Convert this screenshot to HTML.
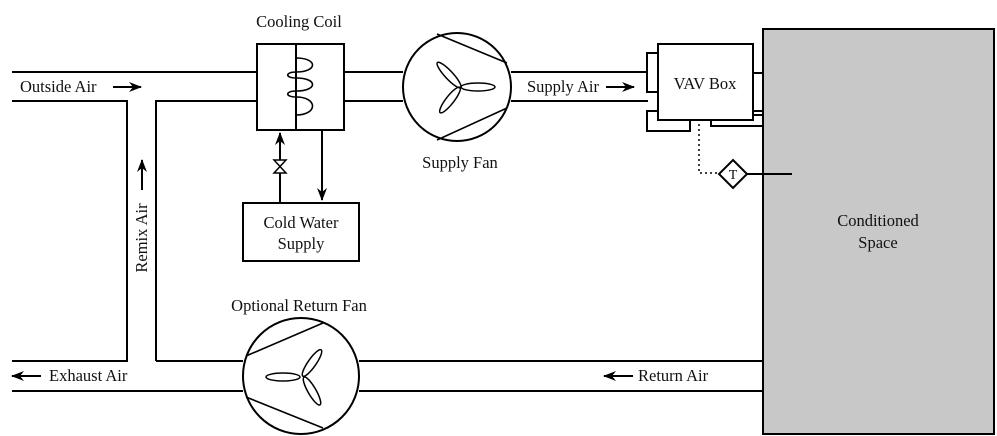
<!DOCTYPE html>
<html><head><style>body{margin:0;background:#fff}svg{display:block}text{font-family:"Liberation Serif",serif;font-size:16.5px;fill:#111}</style></head><body>
<svg width="997" height="436" viewBox="0 0 997 436" xmlns="http://www.w3.org/2000/svg">
<defs><marker id="a" markerWidth="13" markerHeight="10" refX="12" refY="5" orient="auto" markerUnits="userSpaceOnUse"><path d="M0,0 L13,5 L0,10 L4,5z" fill="#000"/></marker></defs>
<g stroke="#000" stroke-width="2" fill="none">
<rect x="763" y="29" width="231" height="405" fill="#c8c8c8"/>
<path d="M12,72 H257 M12,101 H127 V361 H12 M156,361 V101 H257"/>
<path d="M344,72 H403 M344,101 H403 M511,72 H648 M511,101 H648"/>
<path d="M12,391 H243 M156,361 H243 M359,361 H763 M359,391 H763"/>
<rect x="257" y="44" width="87" height="86"/>
<path d="M296,44 V130"/>
<path d="M296,58 C318,58 318,72 296,72 C285,72 285,78 296,78 C318,78 318,91 296,91 C285,91 285,97 296,97 C318,97 318,115 296,115" stroke-width="1.6"/>
<path d="M280,203 V133" marker-end="url(#a)"/>
<path d="M322,130 V200" marker-end="url(#a)"/>
<path d="M274,160 L286,160 L274,173 L286,173 Z" fill="#fff" stroke-width="1.5"/>
<rect x="243" y="203" width="116" height="58"/>
<circle cx="457" cy="87" r="54"/>
<path d="M437,34 L507,63 M437,140 L507,108" stroke-width="1.6"/>
<g stroke-width="1.5"><ellipse cx="478" cy="87" rx="17" ry="4"/><ellipse cx="449" cy="75" rx="17" ry="4" transform="rotate(47 449 75)"/><ellipse cx="450" cy="100" rx="16" ry="4" transform="rotate(-52 450 100)"/></g>
<circle cx="301" cy="376" r="58"/>
<path d="M246,356 L323,323 M246,397 L323,428" stroke-width="1.6"/>
<g stroke-width="1.5"><ellipse cx="283" cy="377" rx="17" ry="4"/><ellipse cx="312" cy="363" rx="16" ry="4" transform="rotate(-55 312 363)"/><ellipse cx="312" cy="391" rx="16" ry="4" transform="rotate(60 312 391)"/></g>
<rect x="647" y="53" width="11" height="39" fill="#fff"/>
<rect x="647" y="111" width="43" height="20" fill="#fff"/>
<rect x="711" y="115" width="52" height="11" fill="#fff"/>
<rect x="753" y="73" width="10" height="38" fill="#fff"/>
<rect x="658" y="44" width="95" height="76" fill="#fff"/>
<path d="M699,124 V173 H719" stroke-dasharray="2,3" stroke-width="1.5"/>
<path d="M733,160 L747,174 L733,188 L719,174Z" fill="#fff"/>
<path d="M747,174 H792"/>
<path d="M113,87 H141" marker-end="url(#a)"/>
<path d="M606,87 H634" marker-end="url(#a)"/>
<path d="M142,190 V160" marker-end="url(#a)"/>
<path d="M41,376 H12" marker-end="url(#a)"/>
<path d="M633,376 H604" marker-end="url(#a)"/>
</g>
<text x="20" y="92">Outside Air</text>
<text x="299" y="27" text-anchor="middle">Cooling Coil</text>
<text x="460" y="168" text-anchor="middle">Supply Fan</text>
<text x="527" y="92">Supply Air</text>
<text x="705" y="89" text-anchor="middle">VAV Box</text>
<text x="733" y="179" text-anchor="middle" style="font-size:14px">T</text>
<text x="301" y="228" text-anchor="middle">Cold Water</text>
<text x="301" y="249" text-anchor="middle">Supply</text>
<text x="878" y="226" text-anchor="middle">Conditioned</text>
<text x="878" y="248" text-anchor="middle">Space</text>
<text x="49" y="381">Exhaust Air</text>
<text x="638" y="381">Return Air</text>
<text x="299" y="311" text-anchor="middle">Optional Return Fan</text>
<text transform="translate(147,238) rotate(-90)" text-anchor="middle">Remix Air</text>
</svg>
</body></html>
